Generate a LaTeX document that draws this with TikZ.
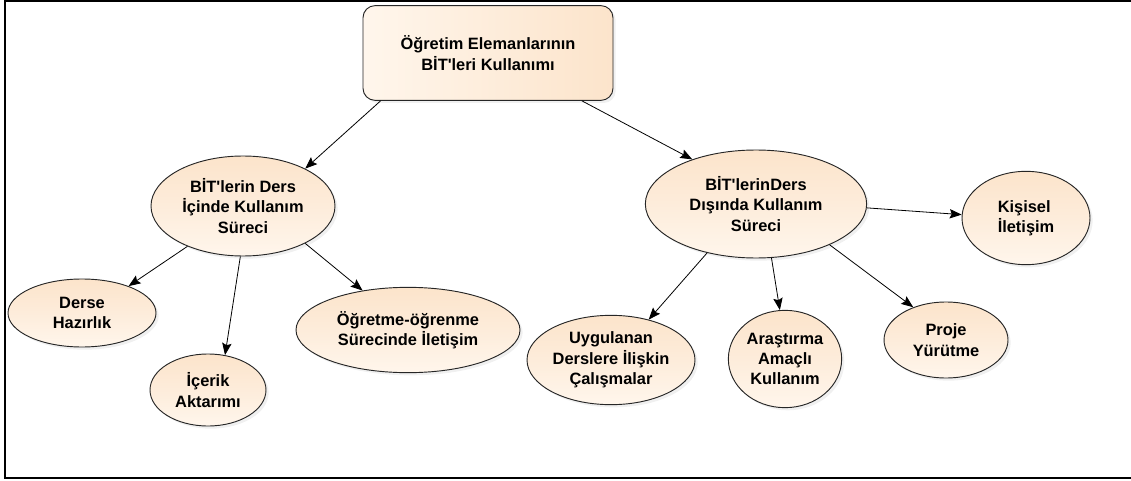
\documentclass[tikz,border=0pt]{standalone}
\usepackage{fontspec}
\setmainfont{Liberation Sans}
\usepackage{xcolor}
\usepackage{tikz}
\usetikzlibrary{arrows.meta, positioning, shapes.geometric, shadows}

\definecolor{peach}{HTML}{FCE4CB}
\definecolor{peachlight}{HTML}{FFF6EC}

\begin{document}
\begin{tikzpicture}[x=0.75pt, y=-0.75pt,
    every node/.style={font=\bfseries\fontsize{12.3}{15.3}\selectfont, align=center},
    bubble/.style={ellipse, draw=black!85, line width=0.7pt, inner sep=-6pt,
      top color=peach, bottom color=peachlight, middle color=peach!70,
      drop shadow={shadow xshift=2pt, shadow yshift=-2pt, opacity=0.12}},
    rootbox/.style={rectangle, rounded corners=9pt, draw=black!85, line width=0.7pt,
      left color=peachlight, right color=peach,
      drop shadow={shadow xshift=2pt, shadow yshift=-2pt, opacity=0.12}},
    link/.style={-{Stealth[length=9pt, width=7pt, inset=1.5pt]}, line width=0.6pt}]
  \useasboundingbox (0,0) rectangle (1131,481);

  % frame
  \draw[line width=1.5pt] (1131,1) -- (5,1) -- (5,478) -- (1131,478);

  % root
  \node[rootbox, minimum width=187.5pt, minimum height=71pt] (root) at (488,53)
    {Öğretim Elemanlarının\\BİT\textquotesingle leri Kullanımı};

  % first level
  \node[bubble, minimum width=138pt, minimum height=75pt] (icinde) at (243,206)
    {BİT\textquotesingle lerin Ders\\İçinde Kullanım\\Süreci};
  \node[bubble, minimum width=166pt, minimum height=81pt] (disinda) at (756,204)
    {BİT\textquotesingle lerinDers\\Dışında Kullanım\\Süreci};

  % left branch
  \node[bubble, minimum width=111pt, minimum height=51pt] (hazirlik) at (82,313)
    {Derse\\Hazırlık};
  \node[bubble, minimum width=87pt, minimum height=54pt] (aktarim) at (208,390)
    {İçerik\\Aktarımı};
  \node[bubble, minimum width=168pt, minimum height=64pt] (iletisim) at (408,330)
    {Öğretme-öğrenme\\Sürecinde İletişim};

  % right branch
  \node[bubble, minimum width=126pt, minimum height=67pt] (uygulanan) at (611,360)
    {Uygulanan\\Derslere İlişkin\\Çalışmalar};
  \node[bubble, minimum width=85pt, minimum height=73pt] (arastirma) at (785,359)
    {Araştırma\\Amaçlı\\Kullanım};
  \node[bubble, minimum width=93pt, minimum height=57pt] (proje) at (946,340)
    {Proje\\Yürütme};
  \node[bubble, minimum width=96pt, minimum height=70pt, align=left] (kisisel) at (1026,218)
    {Kişisel\\İletişim};

  % connectors
  \draw[link] (root.-156) -- (icinde.31);
  \draw[link] (root.-27) -- (disinda.145);
  \draw[link] (icinde.-144) -- (hazirlik.30);
  \draw[link] (icinde.-93) -- (aktarim.64);
  \draw[link] (icinde.-31) -- (iletisim.139);
  \draw[link] (disinda.-135) -- (uygulanan.47);
  \draw[link] (disinda.-74) -- (arastirma.96);
  \draw[link] (disinda.-29) -- (proje.135);
  \draw[link] (disinda.-2) -- (kisisel.177);
\end{tikzpicture}
\end{document}
